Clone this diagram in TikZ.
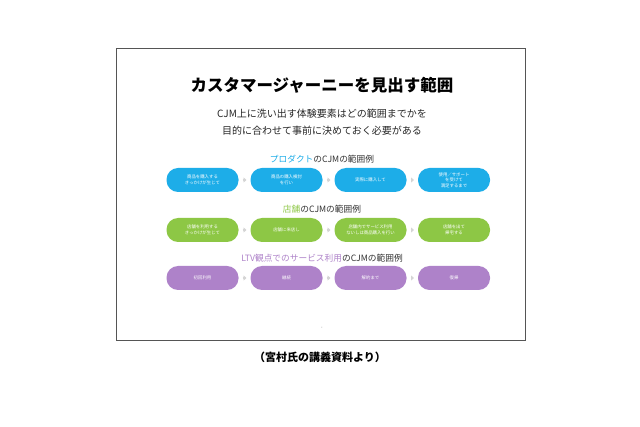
\documentclass[tikz,border=0pt]{standalone}
\usepackage{fontspec}
\setmainfont{Noto Sans CJK JP}
\usetikzlibrary{arrows.meta}
\definecolor{cprod}{HTML}{1DADE8}
\definecolor{cshop}{HTML}{8DC745}
\definecolor{cltv}{HTML}{AE82C9}
\definecolor{carrow}{HTML}{D5D5D5}
\definecolor{cframe}{HTML}{555555}
\begin{document}
\begin{tikzpicture}[x=1pt,y=-1pt,
  pill/.style={rounded corners=11.5pt, minimum width=72pt, minimum height=24pt, inner sep=1pt, text=white, align=center, font=\fontsize{4.4}{5.6}\selectfont},
  prod/.style={pill, fill=cprod},
  shop/.style={pill, fill=cshop},
  ltv/.style={pill, fill=cltv},
  flow/.style={draw=carrow, line width=1.5pt, -{Triangle[length=3pt,width=5pt]}, shorten >=3.8pt, shorten <=3.8pt},
  head/.style={font=\fontsize{8.7}{10}\selectfont, text=black!80}
]
\useasboundingbox (0,0) rectangle (640,427);
\fill[white] (0,0) rectangle (640,427);
\node[draw=cframe, line width=0.8pt, minimum width=409pt, minimum height=292pt, inner sep=0pt] (frame) at (320.5,194) {};
\node[font=\fontsize{16.5}{19}\selectfont\bfseries] (title) at (322,85) {カスタマージャーニーを見出す範囲};
\node[font=\fontsize{10}{17}\selectfont, align=center, text=black!85] (sub) at (322,122) {CJM上に洗い出す体験要素はどの範囲までかを\\目的に合わせて事前に決めておく必要がある};

\node[head] (h1) at (322,159) {\textcolor{cprod}{プロダクト}のCJMの範囲例};
\node[prod] (p1) at (202.5,180) {商品を購入する\\きっかけが生じて};
\node[prod] (p2) at (286.5,180) {商品の購入検討\\を行い};
\node[prod] (p3) at (370.5,180) {実際に購入して};
\node[prod] (p4) at (454,180) {使用／サポート\\を受けて\\満足するまで};
\draw[flow] (p1) -- (p2);
\draw[flow] (p2) -- (p3);
\draw[flow] (p3) -- (p4);

\node[head] (h2) at (322,209) {\textcolor{cshop}{店舗}のCJMの範囲例};
\node[shop] (s1) at (202.5,230) {店舗を利用する\\きっかけが生じて};
\node[shop] (s2) at (286.5,230) {店舗に来店し};
\node[shop] (s3) at (370.5,230) {店舗内でサービス利用\\ないしは商品購入を行い};
\node[shop] (s4) at (454,230) {店舗を出て\\帰宅する};
\draw[flow] (s1) -- (s2);
\draw[flow] (s2) -- (s3);
\draw[flow] (s3) -- (s4);

\node[head] (h3) at (322,258) {\textcolor{cltv}{LTV観点でのサービス利用}のCJMの範囲例};
\node[ltv] (l1) at (202.5,278) {初回利用};
\node[ltv] (l2) at (286.5,278) {継続};
\node[ltv] (l3) at (370.5,278) {解約まで};
\node[ltv] (l4) at (454,278) {復帰};
\draw[flow] (l1) -- (l2);
\draw[flow] (l2) -- (l3);
\draw[flow] (l3) -- (l4);

\node[font=\fontsize{2}{2}\selectfont, text=black!40] (pg) at (322,328) {6};
\node[font=\fontsize{11}{13}\selectfont\bfseries] (cap) at (320,357) {（宮村氏の講義資料より）};
\end{tikzpicture}
\end{document}
